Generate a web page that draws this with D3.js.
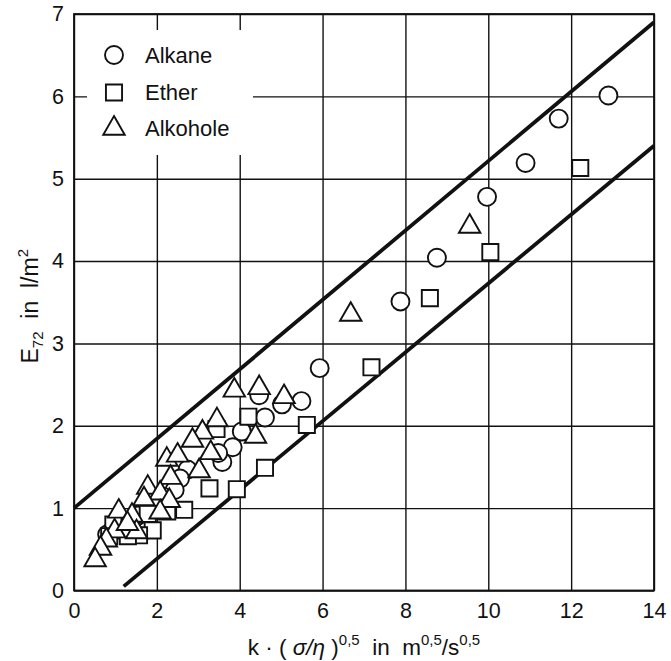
<!DOCTYPE html>
<html><head><meta charset="utf-8">
<script src="https://cdn.jsdelivr.net/npm/d3@7"></script>
<style>
body{margin:0;background:#fff}
svg{display:block}
text{font-family:"Liberation Sans",Arial,Helvetica,sans-serif;fill:#111}
</style>
</head><body>
<svg id="c" width="671" height="661"></svg>
<script>
const xTicks=[0,2,4,6,8,10,12,14];
const yTicks=[0,1,2,3,4,5,6,7];
const seriesNames=["Alkane","Ether","Alkohole"];
const alkane=[[12.9,6.01],[11.7,5.73],[10.9,5.19],[9.97,4.78],[8.76,4.04],[7.88,3.51],[5.93,2.70],[5.49,2.30],[5.02,2.26],[4.47,2.37],[4.61,2.10],[4.05,1.93],[3.83,1.74],[3.58,1.56],[3.48,1.67],[2.74,1.47],[2.56,1.36],[2.43,1.22],[2.15,1.14],[1.88,1.10],[1.76,0.96],[1.55,0.91],[1.16,0.82],[0.95,0.75],[0.80,0.68]];
const ether=[[12.22,5.13],[10.05,4.11],[8.59,3.55],[7.18,2.71],[5.62,2.01],[4.61,1.49],[4.21,2.11],[3.93,1.23],[3.27,1.24],[3.44,1.96],[2.66,0.98],[1.90,0.73],[1.57,0.67],[2.25,0.96],[1.20,0.73],[1.78,0.93],[0.95,0.80],[0.85,0.66],[1.30,0.66]];
const alkohole=[[9.55,4.42],[6.68,3.35],[3.87,2.43],[4.47,2.46],[5.07,2.35],[3.45,2.07],[3.10,1.92],[4.38,1.87],[2.86,1.82],[2.24,1.59],[2.50,1.64],[3.30,1.67],[3.02,1.45],[2.33,1.37],[1.78,1.25],[2.08,1.18],[2.30,1.09],[1.69,1.11],[1.08,0.96],[1.40,0.91],[2.08,0.95],[1.51,0.71],[0.98,0.72],[0.78,0.61],[0.64,0.51],[0.51,0.37],[1.29,0.81]];
const bandUpper=[[0,1.0],[14,6.9]];
const bandLower=[[1.2,0.05],[14,5.4]];

const svg=d3.select("#c");
const L=74,R=654,T=14,B=590.5;
const x=d3.scaleLinear().domain([0,14]).range([L,R]);
const y=d3.scaleLinear().domain([0,7]).range([B,T]);
const ink="#111";

function styleAxis(g,fs){
  g.attr("font-family",null).attr("font-size",null);
  g.select(".domain").remove();
  g.selectAll(".tick line").attr("stroke",ink).attr("stroke-width",1.4);
  g.selectAll(".tick text").attr("font-size",fs).attr("fill",ink);
}
svg.append("g").attr("transform",`translate(0,${B})`)
  .call(d3.axisBottom(x).tickValues(xTicks).tickFormat(d3.format("d")).tickSizeInner(-(B-T)).tickSizeOuter(0).tickPadding(12))
  .call(g=>styleAxis(g,21.5));
svg.append("g").attr("transform",`translate(${L},0)`)
  .call(d3.axisLeft(y).tickValues(yTicks).tickFormat(d3.format("d")).tickSizeInner(-(R-L)).tickSizeOuter(0).tickPadding(10))
  .call(g=>styleAxis(g,21.5));

// legend background (covers grid)
svg.append("rect").attr("x",87).attr("y",30).attr("width",166).attr("height",125).attr("fill","#fff");

// frame
svg.append("rect").attr("x",L).attr("y",T).attr("width",R-L).attr("height",B-T)
  .attr("fill","none").attr("stroke",ink).attr("stroke-width",1.8);

// band lines
const line=d3.line().x(d=>x(d[0])).y(d=>y(d[1]));
[bandUpper,bandLower].forEach(b=>{
  svg.append("path").attr("d",line(b)).attr("fill","none").attr("stroke",ink).attr("stroke-width",3.8).attr("stroke-linecap","butt");
});

const sym={
  Alkane:d3.symbol().type(d3.symbolCircle).size(Math.PI*81),
  Ether:d3.symbol().type(d3.symbolSquare).size(260),
  Alkohole:d3.symbol().type(d3.symbolTriangle).size(200)
};
const data={Alkane:alkane,Ether:ether,Alkohole:alkohole};
seriesNames.forEach(n=>{
  svg.append("g").selectAll("path").data(data[n]).join("path")
    .attr("transform",d=>`translate(${x(d[0])},${y(d[1])})`)
    .attr("d",sym[n]()).attr("fill","#fff").attr("stroke",ink).attr("stroke-width",1.9);
});

// legend
const lg=svg.append("g");
const ly=[55,92.5,128.5];
seriesNames.forEach((n,i)=>{
  lg.append("path").attr("transform",`translate(114,${ly[i]})`).attr("d",sym[n]())
    .attr("fill","#fff").attr("stroke",ink).attr("stroke-width",1.9);
  lg.append("text").attr("x",145).attr("y",ly[i]).attr("dy","0.36em").attr("font-size",22).text(n);
});

// x title
const xt=svg.append("text").attr("x",(L+R)/2).attr("y",655).attr("text-anchor","middle").attr("font-size",22.5).attr("xml:space","preserve");
xt.append("tspan").text("k · ( ");
xt.append("tspan").attr("font-style","italic").text("σ/η");
xt.append("tspan").text(" )");
xt.append("tspan").attr("font-size",15).attr("dy",-10).text("0,5");
xt.append("tspan").attr("dy",10).text("  in  m");
xt.append("tspan").attr("font-size",15).attr("dy",-10).text("0,5");
xt.append("tspan").attr("dy",10).text("/s");
xt.append("tspan").attr("font-size",15).attr("dy",-10).text("0,5");

// y title
const yt=svg.append("text").attr("transform",`translate(38,${(T+B)/2+4}) rotate(-90)`).attr("text-anchor","middle").attr("font-size",23).attr("xml:space","preserve");
yt.append("tspan").text("E");
yt.append("tspan").attr("font-size",15).attr("dy",5).text("72");
yt.append("tspan").attr("dy",-5).text("  in  l/m");
yt.append("tspan").attr("font-size",15).attr("dy",-10).text("2");
</script>
</body></html>
